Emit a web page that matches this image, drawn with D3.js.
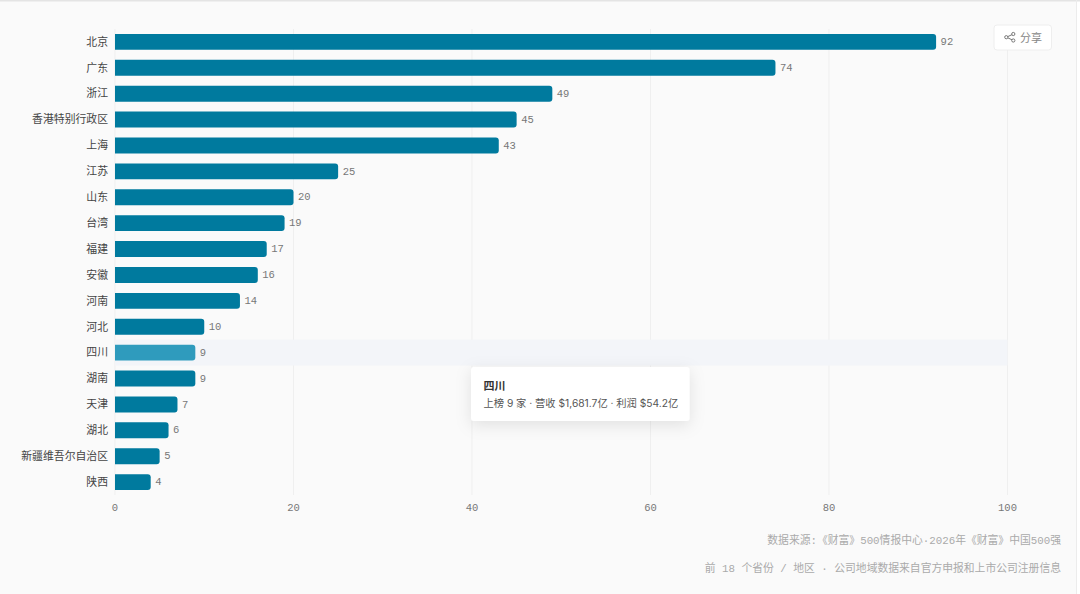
<!DOCTYPE html>
<html>
<head>
<meta charset="utf-8">
<script src="https://cdn.jsdelivr.net/npm/d3@7"></script>
<style>
  html, body { margin: 0; padding: 0; background: #fff; }
  svg { display: block; }
  .cat { font-family: "Noto Sans CJK SC", sans-serif; font-size: 10.85px; fill: #444; }
  .num { font-family: "Liberation Mono", "DejaVu Sans Mono", monospace; font-size: 10.5px; fill: #777; }
  .foot { font-family: "Liberation Mono", "Noto Sans CJK SC", monospace; font-size: 10.8px; fill: #aaa; }
  .tip { font-family: Inter, "Noto Sans CJK SC", sans-serif; }
</style>
</head>
<body>
<svg id="chart" width="1080" height="594"></svg>
<script>
const provinces = ["北京","广东","浙江","香港特别行政区","上海","江苏","山东","台湾","福建","安徽","河南","河北","四川","湖南","天津","湖北","新疆维吾尔自治区","陕西"];
const counts = [92,74,49,45,43,25,20,19,17,16,14,10,9,9,7,6,5,4];
const xTicks = [0,20,40,60,80,100];
const hovered = "四川";

const svg = d3.select("#chart");

// page background + thin edges of the screenshot
svg.append("rect").attr("width", 1076).attr("height", 594).attr("fill", "#fafafa");
svg.append("rect").attr("width", 1080).attr("height", 1.5).attr("fill", "#e4e4e4");
svg.append("rect").attr("x", 1076).attr("width", 1).attr("height", 594).attr("fill", "#ececec");

const xScale = d3.scaleLinear().domain([0, 100]).range([115, 1007.5]);
const yScale = d3.scaleBand().domain(provinces).range([29, 495]).paddingInner(0.385).paddingOuter(0.19);

// grid
svg.append("g").selectAll("line").data(xTicks).enter().append("line")
  .attr("x1", d => xScale(d)).attr("x2", d => xScale(d))
  .attr("y1", 29).attr("y2", 495)
  .attr("stroke", "#efefef").attr("stroke-width", 1);

// hover band
const step = yScale.step();
svg.append("rect")
  .attr("x", xScale(0)).attr("width", xScale(100) - xScale(0))
  .attr("y", yScale(hovered) + yScale.bandwidth() / 2 - step / 2)
  .attr("height", step)
  .attr("fill", "#f3f5f9");

function barPath(d, i) {
  let x0 = xScale(0), x1 = xScale(counts[i]), y0 = yScale(provinces[i]), y1 = y0 + yScale.bandwidth(), r = 3;
  return `M${x0},${y0}H${x1 - r}Q${x1},${y0} ${x1},${y0 + r}V${y1 - r}Q${x1},${y1} ${x1 - r},${y1}H${x0}Z`;
}

svg.append("g").selectAll("path").data(provinces).enter().append("path")
  .attr("d", barPath)
  .attr("fill", d => d == hovered ? "#2f9bbd" : "#007a9e");

// value labels
svg.append("g").selectAll("text").data(provinces).enter().append("text")
  .attr("class", "num")
  .attr("x", (d, i) => xScale(counts[i]) + 4.5)
  .attr("y", d => yScale(d) + yScale.bandwidth() / 2)
  .attr("dy", "0.3em")
  .text((d, i) => counts[i]);

// category labels
svg.append("g").selectAll("text").data(provinces).enter().append("text")
  .attr("class", "cat")
  .attr("x", 108)
  .attr("y", d => yScale(d) + yScale.bandwidth() / 2)
  .attr("dy", "0.35em")
  .attr("text-anchor", "end")
  .text(d => d);

// x axis
const xAxis = d3.axisBottom(xScale).tickValues(xTicks).tickSize(0).tickPadding(0);
const gX = svg.append("g").attr("transform", "translate(-0.5,502.5)").call(xAxis);
gX.select(".domain").remove();
gX.selectAll("text").attr("class", "num").attr("y", 0).attr("dy", "0.8em").style("font-size", "10.5px").style("font-family", '"Liberation Mono", monospace').attr("fill", "#777");

// footer
svg.append("text").attr("class", "foot").attr("x", 1061).attr("y", 544).attr("text-anchor", "end")
  .text("数据来源:《财富》500情报中心·2026年《财富》中国500强");
svg.append("text").attr("class", "foot").attr("x", 1061).attr("y", 572).attr("text-anchor", "end")
  .attr("xml:space", "preserve")
  .text("前 18 个省份 / 地区 · 公司地域数据来自官方申报和上市公司注册信息");

// share button
const share = svg.append("g").attr("transform", "translate(994,25)");
share.append("rect").attr("width", 57.5).attr("height", 25).attr("rx", 3).attr("fill", "#fff").attr("stroke", "#eeeeee");
share.append("path")
  .attr("d", "M19,9.2L12.5,12.2L19,15.3")
  .attr("fill", "none").attr("stroke", "#777").attr("stroke-width", 1);
[[19.3, 9], [12.3, 12.2], [19.3, 15.5]].forEach(p => {
  share.append("circle").attr("cx", p[0]).attr("cy", p[1]).attr("r", 1.6).attr("fill", "#fff").attr("stroke", "#777").attr("stroke-width", 1);
});
share.append("text").attr("x", 26).attr("y", 17)
  .style("font-family", '"Noto Sans CJK SC", sans-serif').style("font-size", "11px").attr("fill", "#888")
  .text("分享");

// tooltip
const defs = svg.append("defs");
const blur = defs.append("filter").attr("id", "tipShadow").attr("x", "-20%").attr("y", "-40%").attr("width", "140%").attr("height", "190%");
blur.append("feDropShadow").attr("dx", 0).attr("dy", 4).attr("stdDeviation", 8).attr("flood-color", "#000").attr("flood-opacity", 0.1);

const tip = svg.append("g").attr("transform", "translate(471,367)");
tip.append("rect").attr("width", 218.5).attr("height", 54).attr("rx", 3).attr("fill", "#fff").attr("filter", "url(#tipShadow)");
tip.append("text").attr("class", "tip").attr("x", 12.5).attr("y", 23)
  .style("font-size", "11px").style("font-weight", 700).attr("fill", "#333")
  .text("四川");
tip.append("text").attr("class", "tip").attr("x", 12.5).attr("y", 40)
  .style("font-size", "10.25px").attr("fill", "#555")
  .text("上榜 9 家 · 营收 $1,681.7亿 · 利润 $54.2亿");
</script>
</body>
</html>
